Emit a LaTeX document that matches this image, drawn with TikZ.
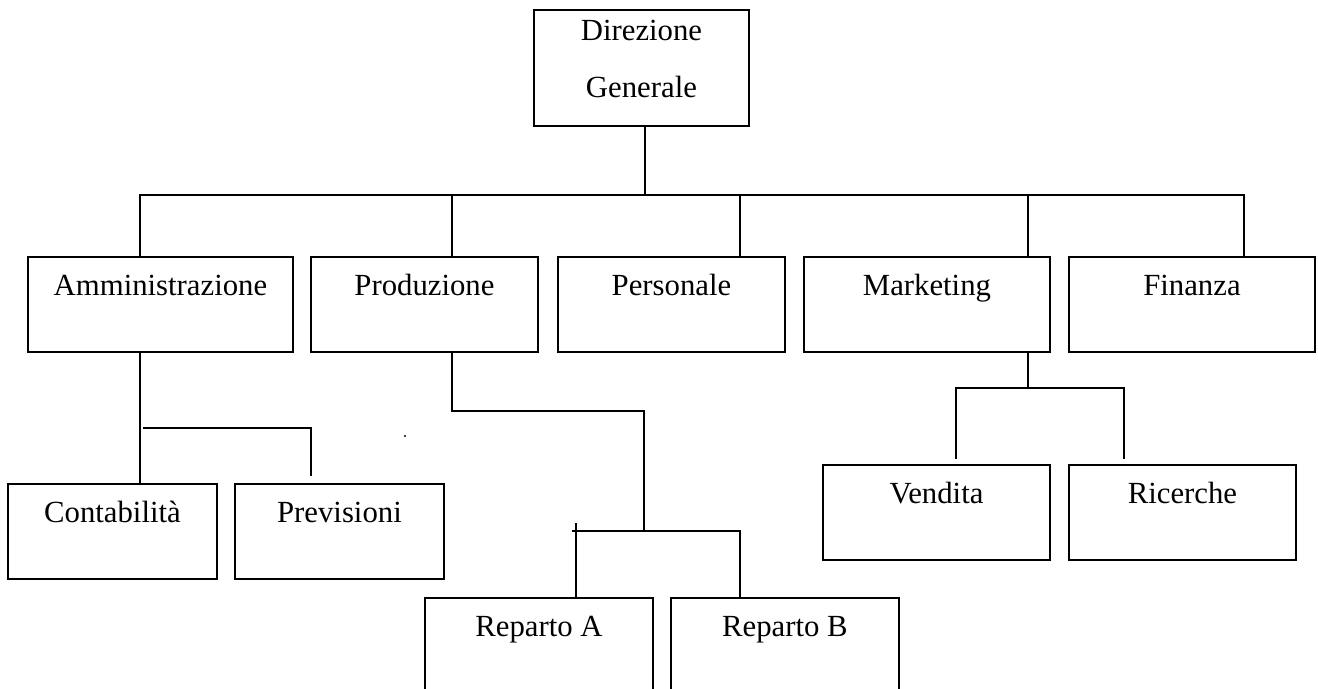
\documentclass[tikz,border=0pt]{standalone}
\usepackage{fontspec}
\setmainfont{Liberation Serif}
\usetikzlibrary{calc}

\tikzset{
  orgbox/.style={draw, line width=1.1pt, anchor=north west, inner sep=0pt,
    minimum width=#1*0.02cm, minimum height=1.9cm,
    text height=0.78cm, text depth=1.12cm,
    font=\fontsize{17.5}{21}\selectfont},
  orgline/.style={line width=1pt}
}

\begin{document}
\begin{tikzpicture}[x=0.02cm,y=-0.02cm]
\useasboundingbox (0,0) rectangle (1318,689);

% Top level
\node[orgbox=215, minimum height=2.32cm, text height=0.62cm, text depth=1.7cm] (dg) at (533,9)
  {\begin{tabular}[t]{@{}c@{}}Direzione\\[11.4pt]Generale\end{tabular}};

% Departments
\node[orgbox=265] (amm) at (27,256) {Amministrazione};
\node[orgbox=227] (prod) at (310,256) {Produzione};
\node[orgbox=227] (pers) at (557,256) {Personale};
\node[orgbox=246] (mkt) at (803,256) {Marketing};
\node[orgbox=246] (fin) at (1068,256) {Finanza};

% Sub-units
\node[orgbox=209] (cont) at (7,483) {Contabilità};
\node[orgbox=209] (prev) at (234,483) {Previsioni};
\node[orgbox=228, minimum height=2cm, text depth=1.22cm] (repA) at (424,597) {Reparto A};
\node[orgbox=228, minimum height=2cm, text depth=1.22cm] (repB) at (670,597) {Reparto B};
\node[orgbox=227] (vend) at (822,464) {Vendita};
\node[orgbox=227] (ric) at (1068,464) {Ricerche};

% Main bar
\coordinate (top) at (645,195);
\draw[orgline] (top |- dg.south) -- (top);
\foreach \xx/\dep in {140/amm,452/prod,740/pers,1028/mkt,1244/fin}
  \coordinate (b\dep) at (\xx,195);
\draw[orgline] (bamm |- amm.north) -- (bamm) -- (bfin) -- (bfin |- fin.north);
\foreach \dep in {prod,pers,mkt}
  \draw[orgline] (b\dep) -- (b\dep |- \dep.north);

% Amministrazione
\coordinate (ammA) at (143,428);
\coordinate (ammB) at (311,428);
\coordinate (ammC) at (311,476);
\draw[orgline] (bamm |- amm.south) -- (bamm |- cont.north);
\draw[orgline] (ammA) -- (ammB) -- (ammC);
\fill (405,436) circle[radius=0.7pt];

% Produzione
\coordinate (prodA) at (452,411);
\coordinate (prodB) at (644,411);
\coordinate (prodC) at (644,531);
\coordinate (repL) at (572,531);
\coordinate (repR) at (740,531);
\coordinate (repT) at (576,523);
\draw[orgline] (bprod |- prod.south) -- (prodA) -- (prodB) -- (prodC);
\draw[orgline] (repL) -- (repR) -- (repR |- repB.north);
\draw[orgline] (repT) -- (repT |- repA.north);

% Marketing
\coordinate (mktA) at (1028,388);
\coordinate (mktL) at (956,388);
\coordinate (mktR) at (1124,388);
\coordinate (vendT) at (956,459);
\coordinate (ricT) at (1124,459);
\draw[orgline] (bmkt |- mkt.south) -- (mktA);
\draw[orgline] (vendT) -- (mktL) -- (mktR) -- (ricT);
\end{tikzpicture}
\end{document}
